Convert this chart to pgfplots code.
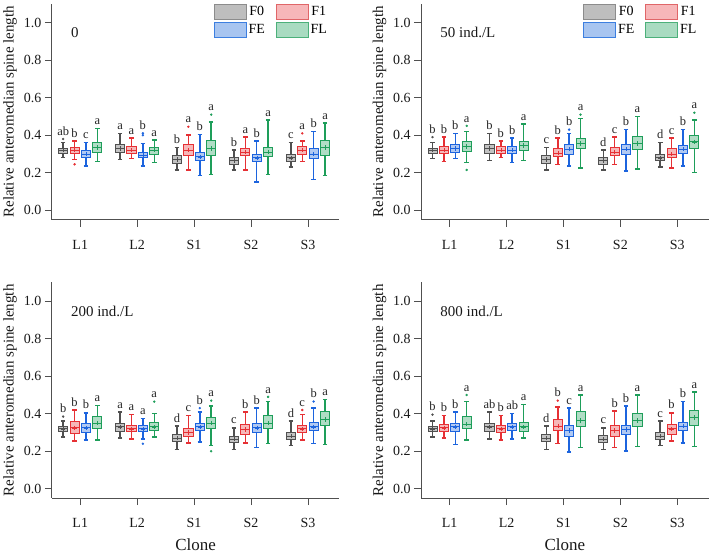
\documentclass[border=0pt]{standalone}
\usepackage{pgfplots}
\pgfplotsset{compat=1.18}
\usepgfplotslibrary{groupplots,statistics}
\usepackage{fontspec}
\setmainfont{Liberation Serif}

% line colours of the four generations
\definecolor{cF0}{RGB}{80,80,80}
\definecolor{cF1}{RGB}{230,48,52}
\definecolor{cFE}{RGB}{28,100,222}
\definecolor{cFL}{RGB}{30,158,90}
% legend swatches
\definecolor{lF0}{RGB}{190,190,190}\definecolor{bF0}{RGB}{140,140,140}
\definecolor{lF1}{RGB}{247,183,185}\definecolor{bF1}{RGB}{224,102,104}
\definecolor{lFE}{RGB}{168,197,240}\definecolor{bFE}{RGB}{61,127,224}
\definecolor{lFL}{RGB}{169,219,193}\definecolor{bFL}{RGB}{76,176,122}
\definecolor{axgray}{RGB}{80,80,80}

\pgfplotsset{
  grp/.style={draw=c#1, fill=c#1, fill opacity=0.35, solid, forget plot,
    mark=*, mark size=1pt, mark options={fill=c#1, fill opacity=1, draw opacity=1}},
}
\tikzset{
  sig/.style={anchor=south, font=\fontsize{12.5}{14}\selectfont, inner sep=1pt,
    yshift=2.5pt, text=black!85},
  ptitle/.style={anchor=west, font=\fontsize{15}{18}\selectfont, text=black!90},
}

% #1 position, #2 group, #3 lw/lq/med/uq/uw, #4 points beyond the whiskers,
% #5 significance letter, #6 height below the letter
\newcommand{\bx}[6]{%
  \bxdraw{#1}{#2}{#4}#3\relax
  \node[sig] at (axis cs:#1,#6) {#5};%
}
\def\bxdraw#1#2#3#4/#5/#6/#7/#8\relax{%
  \addplot[grp=#2, boxplot prepared={draw position=#1, lower whisker=#4,
    lower quartile=#5, median=#6, upper quartile=#7, upper whisker=#8,
    average=#6}] coordinates {#3};%
}

\newcommand{\legendboxes}{%
  \addlegendimage{draw=bF0, fill=lF0}\addlegendentry{F0}
  \addlegendimage{draw=bF1, fill=lF1}\addlegendentry{F1}
  \addlegendimage{draw=bFE, fill=lFE}\addlegendentry{FE}
  \addlegendimage{draw=bFL, fill=lFL}\addlegendentry{FL}
}

\begin{document}
\begin{tikzpicture}
\begin{groupplot}[
  group style={group size=2 by 2, horizontal sep=82pt, vertical sep=63pt},
  width=288pt, height=216pt, scale only axis,
  xmin=0.5, xmax=5.55, ymin=-0.05, ymax=1.1,
  axis lines*=left,
  axis line style={line width=0.8pt, color=axgray},
  tick align=outside, major tick length=7pt,
  tick style={line width=0.8pt, color=axgray},
  xtick={1,2,3,4,5}, xticklabels={L1,L2,S1,S2,S3},
  ytick={0,0.2,0.4,0.6,0.8,1.0},
  /pgf/number format/assume math mode=true,
  yticklabel style={/pgf/number format/.cd, fixed, fixed zerofill, precision=1},
  ticklabel style={font=\fontsize{14}{16}\selectfont, text=black!90},
  xticklabel style={yshift=-10pt},
  ylabel={Relative anteromedian spine length},
  ylabel style={font=\fontsize{15}{18}\selectfont, text=black!90},
  xlabel style={font=\fontsize{17}{20}\selectfont, text=black!90, yshift=-4pt},
  boxplot/draw direction=y,
  boxplot/box extend=0.16,
  boxplot/whisker extend=0.08,
  boxplot/every box/.style={line width=0.9pt},
  boxplot/every whisker/.style={line width=1.5pt},
  boxplot/every median/.style={line width=0.8pt},
  boxplot/every average/.style={/tikz/mark=+, /tikz/mark size=2.2pt, /tikz/line width=0.6pt},
  legend image code/.code={\draw[#1, line width=0.8pt] (0pt,-7.5pt) rectangle (32pt,7.5pt);},
  legend columns=2,
  legend style={draw=none, fill=none, at={(rel axis cs:0.965,1.0)}, anchor=north east,
    font=\fontsize{14}{16}\selectfont, row sep=2pt, inner sep=0pt,
    /tikz/every even column/.append style={column sep=9pt}},
]

% ---------------- 0 ----------------
\nextgroupplot
\legendboxes
\node[ptitle] at (rel axis cs:0.055,0.866) {0};
\bx{0.7}{F0}{0.28/0.305/0.32/0.33/0.36}{(0,0.38)}{ab}{0.38}
\bx{0.9}{F1}{0.27/0.305/0.32/0.335/0.37}{(0,0.245)}{b}{0.37}
\bx{1.1}{FE}{0.235/0.28/0.30/0.32/0.36}{}{c}{0.36}
\bx{1.3}{FL}{0.26/0.31/0.335/0.36/0.435}{}{a}{0.435}
\bx{1.7}{F0}{0.27/0.31/0.33/0.35/0.41}{}{a}{0.41}
\bx{1.9}{F1}{0.275/0.305/0.32/0.34/0.385}{}{a}{0.385}
\bx{2.1}{FE}{0.235/0.28/0.295/0.31/0.355}{(0,0.40) (0,0.41)}{b}{0.41}
\bx{2.3}{FL}{0.255/0.30/0.32/0.335/0.375}{}{a}{0.375}
\bx{2.7}{F0}{0.215/0.25/0.27/0.29/0.335}{}{b}{0.335}
\bx{2.9}{F1}{0.215/0.29/0.32/0.35/0.40}{(0,0.445)}{a}{0.445}
\bx{3.1}{FE}{0.185/0.265/0.285/0.31/0.405}{}{b}{0.405}
\bx{3.3}{FL}{0.19/0.29/0.33/0.37/0.47}{(0,0.51)}{a}{0.51}
\bx{3.7}{F0}{0.215/0.245/0.265/0.28/0.32}{}{b}{0.32}
\bx{3.9}{F1}{0.215/0.29/0.31/0.33/0.39}{}{a}{0.39}
\bx{4.1}{FE}{0.15/0.26/0.28/0.30/0.37}{}{b}{0.37}
\bx{4.3}{FL}{0.19/0.285/0.31/0.335/0.48}{}{a}{0.48}
\bx{4.7}{F0}{0.23/0.26/0.28/0.30/0.36}{}{c}{0.36}
\bx{4.9}{F1}{0.26/0.30/0.32/0.34/0.37}{(0,0.41)}{a}{0.41}
\bx{5.1}{FE}{0.165/0.275/0.30/0.33/0.42}{}{b}{0.42}
\bx{5.3}{FL}{0.185/0.29/0.335/0.37/0.465}{}{a}{0.465}

% ---------------- 50 ind./L ----------------
\nextgroupplot
\legendboxes
\node[ptitle] at (rel axis cs:0.055,0.866) {50 ind./L};
\bx{0.7}{F0}{0.275/0.305/0.32/0.33/0.36}{(0,0.39)}{b}{0.39}
\bx{0.9}{F1}{0.26/0.305/0.32/0.34/0.39}{}{b}{0.39}
\bx{1.1}{FE}{0.275/0.31/0.33/0.35/0.41}{}{b}{0.41}
\bx{1.3}{FL}{0.255/0.315/0.34/0.365/0.42}{(0,0.215) (0,0.45)}{a}{0.45}
\bx{1.7}{F0}{0.265/0.305/0.33/0.35/0.41}{}{b}{0.41}
\bx{1.9}{F1}{0.28/0.305/0.32/0.34/0.37}{}{b}{0.37}
\bx{2.1}{FE}{0.255/0.305/0.32/0.34/0.385}{}{b}{0.385}
\bx{2.3}{FL}{0.265/0.32/0.345/0.365/0.46}{}{a}{0.46}
\bx{2.7}{F0}{0.215/0.25/0.27/0.29/0.335}{}{c}{0.335}
\bx{2.9}{F1}{0.245/0.285/0.305/0.33/0.385}{}{b}{0.385}
\bx{3.1}{FE}{0.235/0.30/0.325/0.35/0.41}{(0,0.43)}{b}{0.43}
\bx{3.3}{FL}{0.225/0.33/0.355/0.385/0.49}{(0,0.51)}{a}{0.51}
\bx{3.7}{F0}{0.215/0.245/0.265/0.28/0.32}{}{d}{0.32}
\bx{3.9}{F1}{0.245/0.29/0.31/0.335/0.39}{}{c}{0.39}
\bx{4.1}{FE}{0.21/0.30/0.325/0.35/0.43}{}{b}{0.43}
\bx{4.3}{FL}{0.22/0.325/0.355/0.395/0.50}{}{a}{0.50}
\bx{4.7}{F0}{0.23/0.265/0.28/0.30/0.36}{}{d}{0.36}
\bx{4.9}{F1}{0.225/0.28/0.30/0.33/0.385}{}{c}{0.385}
\bx{5.1}{FE}{0.235/0.305/0.325/0.345/0.43}{}{b}{0.43}
\bx{5.3}{FL}{0.20/0.33/0.365/0.40/0.48}{(0,0.52)}{a}{0.52}

% ---------------- 200 ind./L ----------------
\nextgroupplot[xlabel={Clone}]
\node[ptitle] at (rel axis cs:0.055,0.866) {200 ind./L};
\bx{0.7}{F0}{0.275/0.305/0.32/0.33/0.36}{(0,0.385)}{b}{0.385}
\bx{0.9}{F1}{0.255/0.295/0.325/0.36/0.42}{}{b}{0.42}
\bx{1.1}{FE}{0.26/0.30/0.325/0.35/0.405}{}{b}{0.405}
\bx{1.3}{FL}{0.26/0.32/0.35/0.385/0.445}{}{a}{0.445}
\bx{1.7}{F0}{0.27/0.305/0.33/0.35/0.41}{}{a}{0.41}
\bx{1.9}{F1}{0.265/0.305/0.32/0.34/0.395}{}{a}{0.395}
\bx{2.1}{FE}{0.265/0.305/0.32/0.335/0.375}{(0,0.24)}{a}{0.375}
\bx{2.3}{FL}{0.275/0.31/0.33/0.355/0.40}{(0,0.465)}{a}{0.465}
\bx{2.7}{F0}{0.21/0.25/0.27/0.29/0.335}{}{d}{0.335}
\bx{2.9}{F1}{0.245/0.28/0.30/0.32/0.39}{}{c}{0.39}
\bx{3.1}{FE}{0.25/0.31/0.33/0.35/0.41}{(0,0.43)}{b}{0.43}
\bx{3.3}{FL}{0.23/0.32/0.35/0.38/0.44}{(0,0.20) (0,0.47)}{a}{0.47}
\bx{3.7}{F0}{0.21/0.245/0.265/0.28/0.325}{}{c}{0.325}
\bx{3.9}{F1}{0.245/0.29/0.315/0.345/0.41}{}{b}{0.41}
\bx{4.1}{FE}{0.22/0.30/0.325/0.35/0.43}{}{b}{0.43}
\bx{4.3}{FL}{0.24/0.32/0.35/0.39/0.465}{(0,0.49)}{a}{0.49}
\bx{4.7}{F0}{0.23/0.265/0.28/0.30/0.36}{}{d}{0.36}
\bx{4.9}{F1}{0.26/0.30/0.32/0.34/0.395}{(0,0.42)}{c}{0.42}
\bx{5.1}{FE}{0.24/0.31/0.33/0.355/0.43}{(0,0.465)}{b}{0.465}
\bx{5.3}{FL}{0.235/0.34/0.37/0.41/0.475}{}{a}{0.475}

% ---------------- 800 ind./L ----------------
\nextgroupplot[xlabel={Clone}]
\node[ptitle] at (rel axis cs:0.055,0.866) {800 ind./L};
\bx{0.7}{F0}{0.275/0.305/0.32/0.33/0.36}{(0,0.395)}{b}{0.395}
\bx{0.9}{F1}{0.27/0.305/0.325/0.345/0.39}{}{b}{0.39}
\bx{1.1}{FE}{0.235/0.305/0.33/0.35/0.41}{}{b}{0.41}
\bx{1.3}{FL}{0.26/0.32/0.345/0.385/0.465}{(0,0.50)}{a}{0.50}
\bx{1.7}{F0}{0.265/0.305/0.33/0.35/0.41}{}{ab}{0.41}
\bx{1.9}{F1}{0.26/0.30/0.32/0.34/0.39}{}{b}{0.39}
\bx{2.1}{FE}{0.265/0.31/0.33/0.35/0.40}{}{ab}{0.40}
\bx{2.3}{FL}{0.27/0.305/0.33/0.355/0.45}{}{a}{0.45}
\bx{2.7}{F0}{0.21/0.25/0.27/0.29/0.335}{}{d}{0.335}
\bx{2.9}{F1}{0.24/0.31/0.335/0.37/0.435}{(0,0.47)}{b}{0.47}
\bx{3.1}{FE}{0.195/0.28/0.31/0.335/0.43}{}{c}{0.43}
\bx{3.3}{FL}{0.22/0.33/0.365/0.41/0.50}{}{a}{0.50}
\bx{3.7}{F0}{0.21/0.245/0.265/0.285/0.325}{}{c}{0.325}
\bx{3.9}{F1}{0.22/0.28/0.31/0.335/0.415}{}{b}{0.415}
\bx{4.1}{FE}{0.20/0.29/0.315/0.34/0.44}{}{b}{0.44}
\bx{4.3}{FL}{0.225/0.33/0.365/0.40/0.50}{}{a}{0.50}
\bx{4.7}{F0}{0.23/0.265/0.28/0.30/0.36}{}{c}{0.36}
\bx{4.9}{F1}{0.255/0.29/0.32/0.345/0.405}{}{b}{0.405}
\bx{5.1}{FE}{0.245/0.31/0.335/0.355/0.465}{}{b}{0.465}
\bx{5.3}{FL}{0.225/0.34/0.38/0.42/0.515}{}{a}{0.515}
\end{groupplot}
% a little white space above the top row
\path ([yshift=4pt]group c1r1.north west);
\end{tikzpicture}
\end{document}
